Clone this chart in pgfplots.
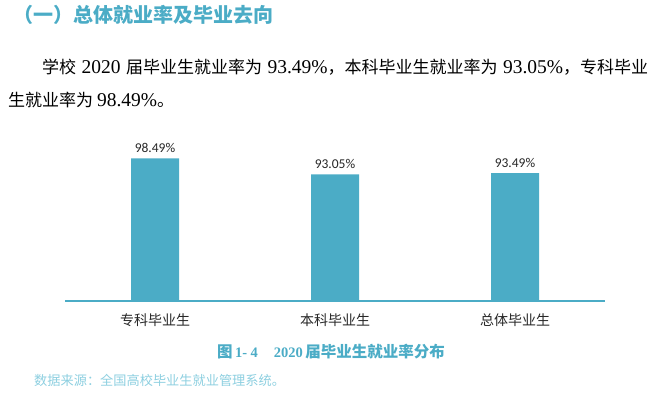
\documentclass[border=0pt]{standalone}
\usepackage{pgfplots}
\pgfplotsset{compat=1.18}
\usepackage{fontspec}
\setmainfont{Liberation Serif}
\newfontfamily\cjk{Noto Sans CJK SC}
\newfontfamily\carlito{Carlito}
\definecolor{barc}{HTML}{4BACC6}
\definecolor{srcc}{HTML}{8DCFE0}
\definecolor{txtc}{HTML}{262626}
\newcommand\Lt[1]{{\rmfamily\fontsize{19.5bp}{19.5bp}\selectfont #1}}
\begin{document}
\begin{tikzpicture}
\path[use as bounding box] (0,0) rectangle (655bp,-394bp);
% heading
\node[anchor=west,inner sep=0,text=barc,font=\cjk\bfseries\fontsize{20bp}{22bp}\selectfont] at (13bp,-15bp) {（一）总体就业率及毕业去向};
% paragraph
\node[anchor=west,inner sep=0,text=black,font=\cjk\fontsize{17bp}{19bp}\selectfont] at (42bp,-67bp)
 {\makebox[606bp][s]{学校 \Lt{2020} 届毕业生就业率为 \Lt{93.49\%}，本科毕业生就业率为 \Lt{93.05\%}，专科毕业}};
\node[anchor=west,inner sep=0,text=black,font=\cjk\fontsize{17bp}{19bp}\selectfont] at (8bp,-100bp)
 {生就业率为 \Lt{98.49\%}。};
% chart
\begin{axis}[
  at={(65bp,-301bp)}, anchor=south west,
  scale only axis, width=540bp, height=147bp,
  ybar, bar width=48bp,
  xmin=-0.5, xmax=2.5, ymin=50, ymax=100,
  hide y axis,
  axis x line*=bottom,
  x axis line style={-, line width=2bp, draw=barc},
  xtick=data, xticklabels={专科毕业生,本科毕业生,总体毕业生},
  xtick style={draw=none},
  xticklabel style={font=\cjk\fontsize{14bp}{16bp}\selectfont, text=txtc, yshift=-5bp},
  nodes near coords={\pgfmathprintnumber[fixed,fixed zerofill,precision=2,assume math mode=true]{\pgfplotspointmeta}\%},
  every node near coord/.append style={font=\carlito\fontsize{13.5bp}{15bp}\selectfont, text=txtc, yshift=2.5bp},
  clip=false,
]
\addplot[fill=barc, draw=none] coordinates {(0,98.49) (1,93.05) (2,93.49)};
\end{axis}
% caption
\node[inner sep=0,text=barc,font=\bfseries] at (331bp,-352bp)
 {{\cjk\fontsize{15.5bp}{17bp}\selectfont 图} {\fontsize{14.5bp}{16bp}\selectfont 1- 4\hspace{16bp}2020} {\cjk\fontsize{15.5bp}{17bp}\selectfont 届毕业生就业率分布}};
% source
\node[anchor=west,inner sep=0,text=srcc,font=\cjk\fontsize{13.2bp}{14bp}\selectfont] at (34bp,-380bp)
 {数据来源：全国高校毕业生就业管理系统。};
\end{tikzpicture}
\end{document}
